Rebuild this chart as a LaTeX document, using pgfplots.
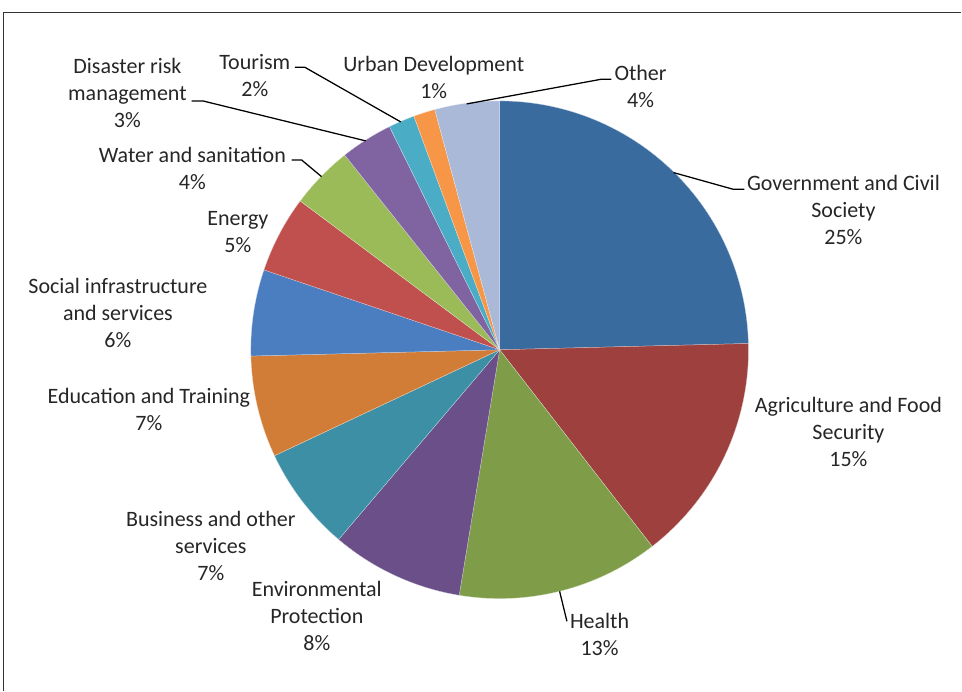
\documentclass[border=0pt]{standalone}
\usepackage{pgfplots}
\pgfplotsset{compat=1.18}
\usepackage{fontspec}
\setmainfont{Carlito}
\definecolor{gov}{HTML}{3A6B9F}
\definecolor{agri}{HTML}{9E413E}
\definecolor{health}{HTML}{7F9D48}
\definecolor{env}{HTML}{6A4F88}
\definecolor{bus}{HTML}{3D8FA6}
\definecolor{edu}{HTML}{D27D37}
\definecolor{soc}{HTML}{4A7EC0}
\definecolor{ener}{HTML}{C0504D}
\definecolor{water}{HTML}{9BBB59}
\definecolor{dis}{HTML}{8064A2}
\definecolor{tour}{HTML}{4BACC6}
\definecolor{urban}{HTML}{F79646}
\definecolor{other}{HTML}{AAB9D8}
\definecolor{txt}{HTML}{262626}
\newcommand\cx{500}
\newcommand\cy{350}
\newcommand\R{249}
\newcommand\acc{0}
\newcommand\slice[2]{%
  \pgfmathsetmacro\sa{90-3.6*\acc}%
  \pgfmathsetmacro\acc{\acc+#1}%
  \pgfmathsetmacro\sb{90-3.6*\acc}%
  \edef\tmp{\noexpand\addplot[fill=#2, draw=white!70!#2, line width=0.2pt, domain=\sb:\sa, samples=90, variable=\noexpand\t] ({\cx+\R*cos(\noexpand\t)},{\cy-\R*sin(\noexpand\t)}) -- (axis cs:\cx,\cy) -- cycle;}%
  \tmp
}
\begin{document}
\begin{tikzpicture}
\begin{axis}[scale only axis, width=721.5pt, height=518.25pt,
  xmin=0, xmax=962, ymin=0, ymax=691, y dir=reverse,
  hide axis, clip=false]
\path (axis cs:0,0) rectangle (axis cs:962,691);
% slices clockwise from 12 o'clock (percent)
\slice{24.6}{gov}
\slice{14.9}{agri}
\slice{13.1}{health}
\slice{8.6}{env}
\slice{6.8}{bus}
\slice{6.6}{edu}
\slice{5.6}{soc}
\slice{5.0}{ener}
\slice{4.1}{water}
\slice{3.4}{dis}
\slice{1.7}{tour}
\slice{1.4}{urban}
\slice{4.2}{other}
% frame
\draw[black!80, line width=1pt] (axis cs:3.5,691) -- (axis cs:3.5,12.5) -- (axis cs:962,12.5);
% leader lines
\draw[black, line width=0.95pt] (axis cs:467,104) -- (axis cs:601.7,79.3) -- (axis cs:611.7,79.3);
\draw[black, line width=0.95pt] (axis cs:674,172.7) -- (axis cs:733.3,189.3) -- (axis cs:745,189.3);
\draw[black, line width=0.95pt] (axis cs:560,591.7) -- (axis cs:567.3,621.7);
\draw[black, line width=0.95pt] (axis cs:295,67.3) -- (axis cs:305,67.3) -- (axis cs:401,122);
\draw[black, line width=0.95pt] (axis cs:191.7,101) -- (axis cs:203,101) -- (axis cs:366,141);
\draw[black, line width=0.95pt] (axis cs:291.7,160) -- (axis cs:301.7,160) -- (axis cs:321.7,176.7);
% labels
\tikzset{lab/.style={align=center, text=txt, inner sep=0pt, font=\fontsize{16.5}{20.25}\selectfont}}
\node[lab] at (axis cs:641,86.5) {Other\\4\%};
\node[lab] at (axis cs:434,77.5) {Urban Development\\1\%};
\node[lab] at (axis cs:255,75.3) {Tourism\\2\%};
\node[lab] at (axis cs:127.5,93) {Disaster risk\\management\\3\%};
\node[lab] at (axis cs:192.5,168.5) {Water and sanitation\\4\%};
\node[lab] at (axis cs:238,232.5) {Energy\\5\%};
\node[lab] at (axis cs:118,313) {Social infrastructure\\and services\\6\%};
\node[lab] at (axis cs:149,410) {Education and Training\\7\%};
\node[lab] at (axis cs:211,546.7) {Business and other\\services\\7\%};
\node[lab] at (axis cs:317,616.7) {Environmental\\Protection\\8\%};
\node[lab] at (axis cs:600,635) {Health\\13\%};
\node[lab] at (axis cs:849,432) {Agriculture and Food\\Security\\15\%};
\node[lab] at (axis cs:844,210) {Government and Civil\\Society\\25\%};
\end{axis}
\end{tikzpicture}
\end{document}
